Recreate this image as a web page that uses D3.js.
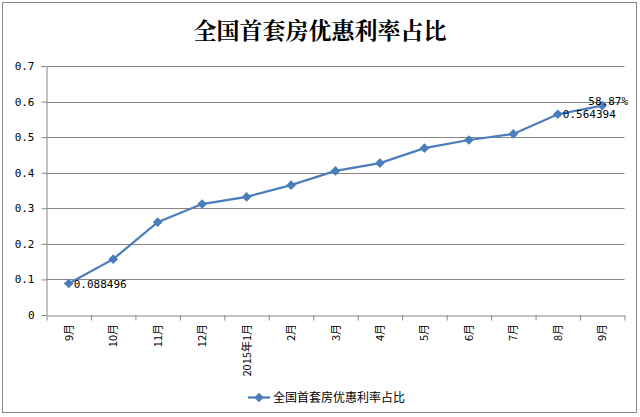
<!DOCTYPE html>
<html><head><meta charset="utf-8">
<script src="https://cdn.jsdelivr.net/npm/d3@7"></script>
<style>body{margin:0;background:#fff;}svg{display:block;}</style>
</head><body>
<script>
const categories = ["9月","10月","11月","12月","2015年1月","2月","3月","4月","5月","6月","7月","8月","9月"];
const values = [0.088496,0.157,0.261,0.312,0.332,0.365,0.405,0.427,0.469,0.492,0.509,0.564394,0.5887];
const yTicks = [0,0.1,0.2,0.3,0.4,0.5,0.6,0.7];
const seriesName = "全国首套房优惠利率占比";
const title = "全国首套房优惠利率占比";
const pointLabels = [{i:0,text:"0.088496"},{i:11,text:"0.564394"},{i:12,text:"58.87%"}];

(function(){
const W=640,H=417;
const svg=d3.select("body").append("svg").attr("width",W).attr("height",H);
svg.append("rect").attr("x",2.5).attr("y",2.5).attr("width",634).attr("height",410).attr("fill","#fff").attr("stroke","#888").attr("stroke-width",1);

const pL=46.5,pR=624.5,pT=66,pB=315;
const x=d3.scaleBand().domain(d3.range(categories.length)).range([pL,pR]);
const y=d3.scaleLinear().domain([0,0.7]).range([pB,pT]);

svg.append("text").attr("x",320).attr("y",39).attr("text-anchor","middle")
  .attr("font-family","'Noto Serif CJK SC','Noto Sans CJK SC',serif").attr("font-weight","bold").attr("font-size",23).text(title);

svg.append("g").selectAll("line").data(yTicks.slice(1)).join("line")
  .attr("x1",pL).attr("x2",pR).attr("y1",d=>Math.round(y(d))+0.5).attr("y2",d=>Math.round(y(d))+0.5)
  .attr("stroke","#868686");

const yAxis=svg.append("g").attr("transform",`translate(${pL},0)`)
  .call(d3.axisLeft(y).tickValues(yTicks).tickFormat(d=>d===0?"0":d.toFixed(1)).tickSize(5).tickSizeOuter(0));
yAxis.select(".domain").attr("stroke","#868686");
yAxis.selectAll(".tick line").attr("stroke","#868686");
yAxis.selectAll("text").attr("font-family","'DejaVu Sans Mono',monospace").attr("font-size",11).attr("fill","#000").attr("x",-12);

const xAxis=svg.append("g").attr("transform",`translate(0,${pB+0.5})`)
  .call(d3.axisBottom(d3.scaleLinear().domain([0,categories.length]).range([pL,pR]))
    .tickValues(d3.range(categories.length+1)).tickFormat("").tickSize(5).tickSizeOuter(0));
xAxis.select(".domain").attr("stroke","#868686");
xAxis.selectAll(".tick line").attr("stroke","#868686");

svg.append("g").selectAll("text").data(categories).join("text")
  .attr("transform",(d,i)=>`translate(${x(i)+x.bandwidth()/2+4},${pB+9}) rotate(-90)`)
  .attr("text-anchor","end").attr("font-family","'Noto Sans CJK SC',sans-serif").attr("font-size",11).text(d=>d);

const color="#4A7EBB";
const line=d3.line().x((d,i)=>x(i)+x.bandwidth()/2).y(d=>y(d));
svg.append("path").datum(values).attr("d",line).attr("fill","none").attr("stroke",color).attr("stroke-width",2.25);
const diamond=d3.symbol().type(d3.symbolDiamond2).size(60);
svg.append("g").selectAll("path").data(values).join("path")
  .attr("transform",(d,i)=>`translate(${x(i)+x.bandwidth()/2},${y(d)})`).attr("d",diamond).attr("fill",color);

svg.append("g").selectAll("text").data(pointLabels).join("text")
  .attr("x",d=>x(d.i)+x.bandwidth()/2+(d.i===12?-14:5))
  .attr("y",d=>y(values[d.i])+(d.i===12?-1:4))
  .attr("font-family","'DejaVu Sans Mono',monospace").attr("font-size",11).text(d=>d.text);

svg.append("line").attr("x1",248).attr("x2",270).attr("y1",397.5).attr("y2",397.5).attr("stroke",color).attr("stroke-width",2.25);
svg.append("path").attr("transform","translate(259,397.5)").attr("d",diamond).attr("fill",color);
svg.append("text").attr("x",273).attr("y",402).attr("font-family","'Noto Sans CJK SC',sans-serif").attr("font-size",12).text(seriesName);
})();
</script>
</body></html>
